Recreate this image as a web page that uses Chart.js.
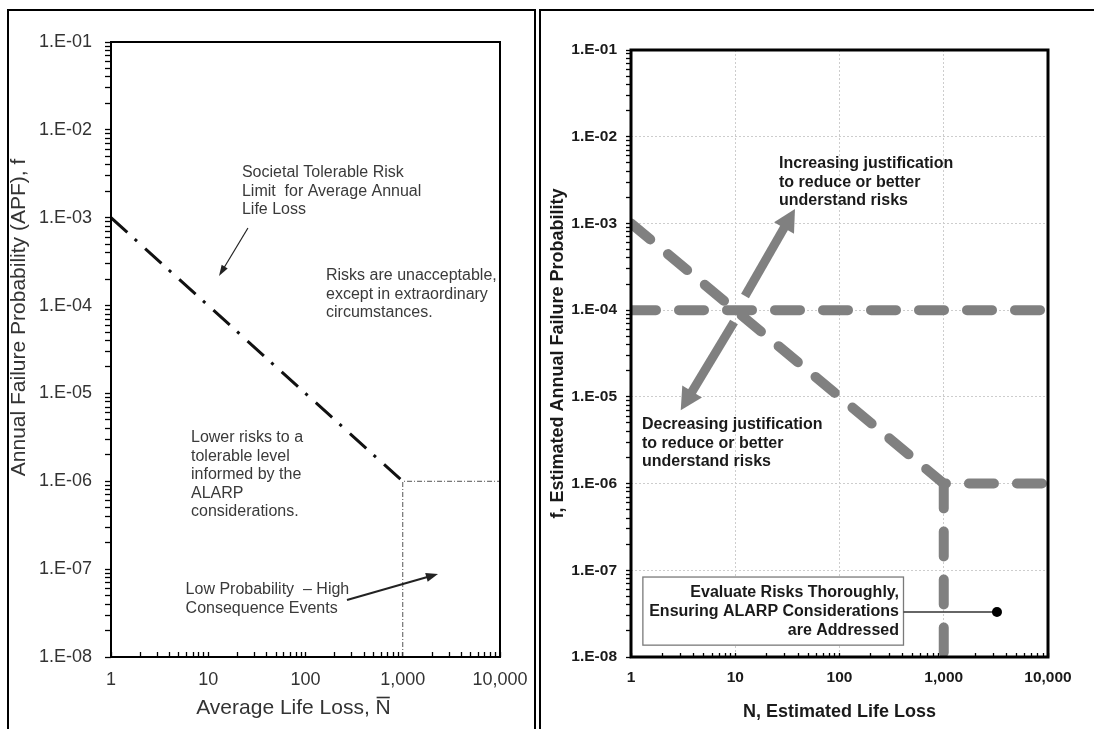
<!DOCTYPE html>
<html>
<head>
<meta charset="utf-8">
<script src="https://cdn.jsdelivr.net/npm/chart.js@4/dist/chart.umd.min.js"></script>
<style>
  html, body { margin: 0; padding: 0; background: #fff; }
  body { width: 1094px; height: 729px; position: relative; overflow: hidden; }
  canvas { position: absolute; top: 0; }
  #left { left: 0; }
  #right { left: 537px; }
  .frame { position: absolute; border: 2px solid #000; box-sizing: border-box; pointer-events: none; }
</style>
</head>
<body>
<canvas id="left" width="537" height="729"></canvas>
<canvas id="right" width="557" height="729"></canvas>
<div class="frame" style="left:7px; top:9px; width:529px; height:760px;"></div>
<div class="frame" style="left:539px; top:9px; width:600px; height:760px;"></div>
<script>
// ---- Axis decades and their labels ----
const xTickValues = [1, 10, 100, 1000, 10000];
const xTickLabels = ['1', '10', '100', '1,000', '10,000'];
const yTickValues = [1e-8, 1e-7, 1e-6, 1e-5, 1e-4, 1e-3, 1e-2, 1e-1];
const yTickLabels = ['1.E-08', '1.E-07', '1.E-06', '1.E-05', '1.E-04', '1.E-03', '1.E-02', '1.E-01'];

// ---- Left panel: average annual life loss ----
const limitLifeLoss = [1, 1000];          // societal tolerable risk limit
const limitProbability = [1e-3, 1e-6];
const boundLifeLoss = [1000, 1000, 10000]; // low probability - high consequence region
const boundProbability = [1e-8, 1e-6, 1e-6];

// ---- Right panel: estimated life loss ----
const guideLifeLoss = [1, 10000];          // 1E-04 horizontal guideline
const guideProbability = [1e-4, 1e-4];
const diagLifeLoss = [1, 1000, 10000];     // sloped limit with 1E-06 tail
const diagProbability = [1e-3, 1e-6, 1e-6];
const vertLifeLoss = [1000, 1000];         // N = 1,000 drop
const vertProbability = [1e-6, 1e-8];
const calloutLifeLoss = [411, 3240];       // leader to the ALARP note
const calloutProbability = [3.3e-8, 3.3e-8];

const FONT = "'Liberation Sans', Arial, Helvetica, sans-serif";
const leftInk = '#333333';
const rightInk = '#1a1a1a';
const guideGray = '#808080';

function logTicks(values) {
  const ticks = [];
  values.forEach((v, i) => {
    ticks.push({ value: v, major: true });
    if (i < values.length - 1) {
      for (let m = 2; m <= 9; m++) ticks.push({ value: +(m * v).toPrecision(6), major: false });
    }
  });
  return ticks;
}
function labelFor(value, values, labels) {
  const i = values.findIndex(v => Math.abs(Math.log10(v) - Math.log10(value)) < 1e-6);
  return i >= 0 ? labels[i] : '';
}
function pairs(xs, ys) { return xs.map((x, i) => ({ x, y: ys[i] })); }
// keep the plot area fixed: no extra room reserved for overhanging tick labels
function fixHeight(h) { return s => { s.height = h; s.paddingLeft = 0; s.paddingRight = 0; }; }
function fixWidth(w) { return s => { s.width = w; s.paddingTop = 0; s.paddingBottom = 0; }; }

function drawArrow(ctx, p0, p1, width, headLen, headHalf, color) {
  const dx = p1[0] - p0[0], dy = p1[1] - p0[1];
  const len = Math.hypot(dx, dy);
  const ux = dx / len, uy = dy / len;
  const bx = p1[0] - ux * headLen, by = p1[1] - uy * headLen;
  ctx.strokeStyle = color; ctx.fillStyle = color;
  ctx.lineWidth = width; ctx.lineCap = 'butt';
  ctx.beginPath(); ctx.moveTo(p0[0], p0[1]); ctx.lineTo(bx + ux, by + uy); ctx.stroke();
  ctx.beginPath();
  ctx.moveTo(p1[0], p1[1]);
  ctx.lineTo(bx - uy * headHalf, by + ux * headHalf);
  ctx.lineTo(bx + uy * headHalf, by - ux * headHalf);
  ctx.closePath(); ctx.fill();
}

// ---- Left panel notes ----
const leftText = [
  { at: [22.2, 3.23e-3], lines: ['Societal Tolerable Risk', 'Limit  for Average Annual', 'Life Loss'] },
  { at: [162.5, 2.17e-4], lines: ['Risks are unacceptable,', 'except in extraordinary', 'circumstances.'] },
  { at: [6.65, 3.11e-6], lines: ['Lower risks to a', 'tolerable level', 'informed by the', 'ALARP', 'considerations.'] },
  { at: [5.85, 5.79e-8], lines: ['Low Probability  \u2013 High', 'Consequence Events'] }
];
const leftArrows = [
  { from: [25.6, 7.64e-4], to: [12.9, 2.17e-4], width: 1.2, head: 11, half: 3.5 },
  { from: [267, 4.46e-8], to: [2303, 8.8e-8], width: 2, head: 12, half: 4.5 }
];

const leftNotes = {
  id: 'leftNotes',
  afterDraw(chart) {
    const { ctx, chartArea: a, scales: { x, y } } = chart;
    const px = p => [x.getPixelForValue(p[0]), y.getPixelForValue(p[1])];
    ctx.save();
    ctx.strokeStyle = '#000'; ctx.lineWidth = 2;
    ctx.strokeRect(a.left, a.top, a.right - a.left, a.bottom - a.top);

    ctx.font = `16px ${FONT}`; ctx.fillStyle = '#3a3a3a';
    ctx.textAlign = 'left'; ctx.textBaseline = 'middle';
    leftText.forEach(t => {
      const [tx, ty] = px(t.at);
      t.lines.forEach((s, i) => ctx.fillText(s, tx, ty + i * 18.5));
    });
    leftArrows.forEach(r => drawArrow(ctx, px(r.from), px(r.to), r.width, r.head, r.half, '#222'));

    // axis titles
    ctx.fillStyle = leftInk; ctx.font = `21px ${FONT}`;
    const xt = 'Average Life Loss, N';
    const cx = (a.left + a.right) / 2 - 12, cy = 708;
    ctx.textAlign = 'center';
    ctx.fillText(xt, cx, cy);
    const full = ctx.measureText(xt).width, nW = ctx.measureText('N').width;
    const nx = cx + full / 2 - nW;
    ctx.strokeStyle = leftInk; ctx.lineWidth = 1.6;
    ctx.beginPath(); ctx.moveTo(nx + 1, cy - 10.5); ctx.lineTo(nx + nW - 1, cy - 10.5); ctx.stroke();

    ctx.translate(19, (a.top + a.bottom) / 2 - 32);
    ctx.rotate(-Math.PI / 2);
    ctx.fillText('Annual Failure Probability (APF), f', 0, 0);
    ctx.restore();
  }
};

new Chart(document.getElementById('left'), {
  type: 'line',
  data: {
    datasets: [
      { label: 'Societal tolerable risk limit', data: pairs(limitLifeLoss, limitProbability),
        borderColor: '#111', borderWidth: 3, borderDash: [22, 10, 3, 11], pointRadius: 0, fill: false, tension: 0 },
      { label: 'Low probability - high consequence bound', data: pairs(boundLifeLoss, boundProbability),
        borderColor: '#555', borderWidth: 1, borderDash: [5, 2, 1, 2], pointRadius: 0, fill: false, tension: 0 }
    ]
  },
  options: {
    responsive: false, animation: false, devicePixelRatio: 1,
    layout: { padding: { left: 0, top: 42, right: 37, bottom: 0 } },
    plugins: { legend: { display: false }, tooltip: { enabled: false } },
    scales: {
      x: {
        type: 'logarithmic', min: 1, max: 10000,
        afterBuildTicks: s => { s.ticks = logTicks(xTickValues); },
        afterFit: fixHeight(72),
        ticks: { autoSkip: false, maxRotation: 0, minRotation: 0, padding: 17, color: leftInk,
                 font: { family: FONT, size: 18 }, callback: v => labelFor(v, xTickValues, xTickLabels) },
        grid: { color: 'transparent', tickColor: '#000', tickLength: -5, tickWidth: 1.3 },
        border: { display: false }
      },
      y: {
        type: 'logarithmic', min: 1e-8, max: 1e-1,
        afterBuildTicks: s => { s.ticks = logTicks(yTickValues); },
        afterFit: fixWidth(111),
        ticks: { autoSkip: false, padding: 13, color: leftInk,
                 font: { family: FONT, size: 18 }, callback: v => labelFor(v, yTickValues, yTickLabels) },
        grid: { color: 'transparent', tickColor: '#000', tickLength: 6, tickWidth: 1.3 },
        border: { display: false }
      }
    }
  },
  plugins: [leftNotes]
});

// ---- Right panel notes ----
const rightText = [
  { at: [26.3, 4.84e-3], lines: ['Increasing justification', 'to reduce or better', 'understand risks'] },
  { at: [1.275, 4.73e-6], lines: ['Decreasing justification', 'to reduce or better', 'understand risks'] }
];
const rightArrows = [
  { from: [12.4, 1.455e-4], to: [37.4, 1.47e-3] },
  { from: [9.73, 7.3e-5], to: [3.0, 7.0e-6] }
];
const alarpNote = {
  corner1: [1.30, 8.36e-8], corner2: [411, 1.37e-8], textAt: [372, 3.3e-8],
  lines: ['Evaluate Risks Thoroughly,', 'Ensuring ALARP Considerations', 'are Addressed']
};

const rightNotes = {
  id: 'rightNotes',
  beforeDatasetsDraw(chart) {
    const { ctx, scales: { x, y } } = chart;
    const px = p => [x.getPixelForValue(p[0]), y.getPixelForValue(p[1])];
    const [x1, y1] = px(alarpNote.corner1), [x2, y2] = px(alarpNote.corner2);
    ctx.save();
    ctx.fillStyle = '#fff';
    ctx.fillRect(x1, y1, x2 - x1, y2 - y1);
    ctx.strokeStyle = '#7a7a7a'; ctx.lineWidth = 1.3;
    ctx.strokeRect(x1, y1, x2 - x1, y2 - y1);
    ctx.font = `bold 16px ${FONT}`; ctx.fillStyle = rightInk;
    ctx.textAlign = 'right'; ctx.textBaseline = 'middle';
    const [tx, ty] = px(alarpNote.textAt);
    alarpNote.lines.forEach((s, i) => ctx.fillText(s, tx, ty + (i - 1) * 19));
    ctx.restore();
  },
  afterDatasetsDraw(chart) {
    const { ctx, scales: { x, y } } = chart;
    const px = p => [x.getPixelForValue(p[0]), y.getPixelForValue(p[1])];
    ctx.save();
    rightArrows.forEach(r => drawArrow(ctx, px(r.from), px(r.to), 9, 22, 11.5, guideGray));
    ctx.font = `bold 16px ${FONT}`; ctx.fillStyle = rightInk;
    ctx.textAlign = 'left'; ctx.textBaseline = 'middle';
    rightText.forEach(t => {
      const [tx, ty] = px(t.at);
      t.lines.forEach((s, i) => ctx.fillText(s, tx, ty + i * 18.5));
    });
    ctx.restore();
  },
  afterDraw(chart) {
    const { ctx, chartArea: a } = chart;
    ctx.save();
    ctx.strokeStyle = '#000'; ctx.lineWidth = 3;
    ctx.strokeRect(a.left, a.top, a.right - a.left, a.bottom - a.top);
    ctx.restore();
  }
};

const thickDash = { borderColor: guideGray, borderWidth: 10, borderDash: [25, 23], borderCapStyle: 'round',
                    pointRadius: 0, fill: false, tension: 0, clip: 0 };

new Chart(document.getElementById('right'), {
  type: 'line',
  data: {
    datasets: [
      Object.assign({ label: '1E-04 guideline', data: pairs(guideLifeLoss, guideProbability) }, thickDash),
      Object.assign({ label: 'Sloped limit', data: pairs(diagLifeLoss, diagProbability), borderJoinStyle: 'round' }, thickDash),
      Object.assign({ label: 'N = 1,000', data: pairs(vertLifeLoss, vertProbability) }, thickDash),
      { label: 'ALARP note leader', data: pairs(calloutLifeLoss, calloutProbability),
        borderColor: '#333', borderWidth: 1.5, pointRadius: [0, 5], pointBackgroundColor: '#000',
        pointBorderColor: '#000', pointBorderWidth: 0, fill: false, tension: 0 }
    ]
  },
  options: {
    responsive: false, animation: false, devicePixelRatio: 1,
    layout: { padding: { left: 0, top: 50, right: 46, bottom: 0 } },
    plugins: { legend: { display: false }, tooltip: { enabled: false } },
    scales: {
      x: {
        type: 'logarithmic', min: 1, max: 10000,
        afterBuildTicks: s => { s.ticks = logTicks(xTickValues); },
        afterFit: fixHeight(72),
        ticks: { autoSkip: false, maxRotation: 0, minRotation: 0, padding: 15.7, color: rightInk,
                 font: { family: FONT, size: 15.5, weight: 'bold' }, callback: v => labelFor(v, xTickValues, xTickLabels) },
        grid: { color: c => (c.tick && c.tick.major ? '#cdcdcd' : 'transparent'), tickColor: '#000',
                tickLength: -4, tickWidth: 1.3 },
        border: { display: false, dash: [2, 2] },
        title: { display: true, text: 'N, Estimated Life Loss', color: rightInk,
                 font: { family: FONT, size: 18, weight: 'bold' }, padding: { top: 0, bottom: 6 } }
      },
      y: {
        type: 'logarithmic', min: 1e-8, max: 1e-1,
        afterBuildTicks: s => { s.ticks = logTicks(yTickValues); },
        afterFit: fixWidth(94),
        ticks: { autoSkip: false, padding: 9, color: rightInk,
                 font: { family: FONT, size: 15.5, weight: 'bold' }, callback: v => labelFor(v, yTickValues, yTickLabels) },
        grid: { color: c => (c.tick && c.tick.major ? '#cdcdcd' : 'transparent'), tickColor: '#000',
                tickLength: 5, tickWidth: 1.3 },
        border: { display: false, dash: [2, 2] },
        title: { display: true, text: 'f, Estimated Annual Failure Probability', color: rightInk,
                 font: { family: FONT, size: 18, weight: 'bold' }, padding: { top: 10, bottom: 0 } }
      }
    }
  },
  plugins: [rightNotes]
});
</script>
</body>
</html>
